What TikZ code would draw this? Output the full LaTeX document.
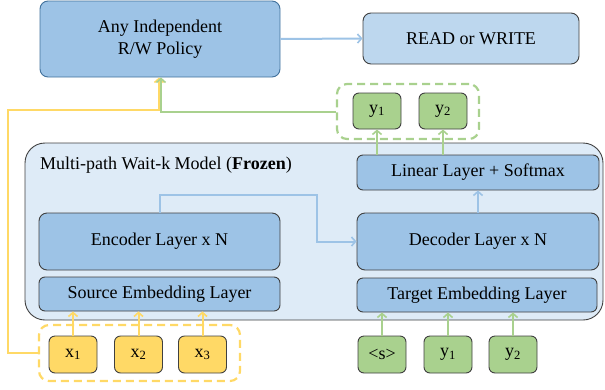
\documentclass[tikz,border=0pt]{standalone}
\usepackage{fontspec}
\setmainfont{Liberation Serif}
\usetikzlibrary{arrows.meta}
\definecolor{boxblue}{HTML}{9DC3E6}
\definecolor{paleblue}{HTML}{BDD7EE}
\definecolor{frameblue}{HTML}{DEEBF7}
\definecolor{edgeblue}{HTML}{41719C}
\definecolor{leafgreen}{HTML}{A9D18E}
\definecolor{tokyellow}{HTML}{FFD966}
\definecolor{darkedge}{HTML}{404040}
\begin{document}
\begin{tikzpicture}[x=1pt,y=-1pt,
  font=\fontsize{18}{22}\selectfont,
  base/.style={draw=darkedge,line width=0.9pt,rounded corners=8pt,inner sep=0pt,align=center},
  layer/.style={base,fill=boxblue},
  token/.style={base,rounded corners=6pt,minimum width=48pt,minimum height=37pt},
  ytok/.style={token,fill=tokyellow},
  gtok/.style={token,fill=leafgreen},
  group/.style={draw,line width=2.2pt,dash pattern=on 8pt off 5pt,rounded corners=10pt,inner sep=0pt},
  tip/.style={-{Straight Barb[length=4pt,width=9pt,line width=1.6pt]}},
  bline/.style={draw=boxblue,line width=2pt},
  gline/.style={draw=leafgreen,line width=2pt},
  yline/.style={draw=tokyellow,line width=2pt}]
\useasboundingbox (0,0) rectangle (605,389);

% frozen model frame
\node[draw=darkedge,line width=0.9pt,fill=frameblue,rounded corners=20pt,
      minimum width=578pt,minimum height=177pt] (model) at (314,231.5) {};
\node[anchor=west,inner sep=0pt] (title) at (40,165)
  {Multi-path Wait-k Model (\textbf{Frozen})};

% policy and decision
\node[layer,draw=edgeblue,minimum width=240pt,minimum height=76pt] (policy) at (160,39)
  {Any Independent\\R/W Policy};
\node[base,fill=paleblue,minimum width=216pt,minimum height=51pt] (rw) at (471,38.5)
  {READ or WRITE};

% encoder side
\node[layer,minimum width=241pt,minimum height=57pt] (enc) at (159.5,241.5) {Encoder Layer x N};
\node[layer,rounded corners=6pt,minimum width=241pt,minimum height=34pt] (src) at (159.5,294) {Source Embedding Layer};

% decoder side
\node[layer,rounded corners=6pt,minimum width=242pt,minimum height=35pt] (lin) at (478,172.5) {Linear Layer + Softmax};
\node[layer,minimum width=242pt,minimum height=57pt] (dec) at (478,241.5) {Decoder Layer x N};
\node[layer,rounded corners=6pt,minimum width=240pt,minimum height=34pt] (tgt) at (477,295) {Target Embedding Layer};

% source tokens
\node[group,draw=tokyellow,minimum width=201pt,minimum height=56pt] (ygrp) at (139.5,353) {};
\node[ytok] (x1) at (73,354.5) {x\textsubscript{1}};
\node[ytok] (x2) at (138.5,354.5) {x\textsubscript{2}};
\node[ytok] (x3) at (202.5,354.5) {x\textsubscript{3}};

% target-side input tokens
\node[gtok] (s0) at (382,354.5) {\textless s\textgreater};
\node[gtok] (ya) at (448,354.5) {y\textsubscript{1}};
\node[gtok] (yb) at (513,354.5) {y\textsubscript{2}};

% output tokens
\node[group,draw=leafgreen,minimum width=142pt,minimum height=55pt] (ggrp) at (408,111.5) {};
\node[gtok,minimum height=36pt] (o1) at (377,111) {y\textsubscript{1}};
\node[gtok,minimum height=36pt] (o2) at (443,111) {y\textsubscript{2}};

% connectors
\draw[bline,tip] (policy.east) -- (rw.west);

\coordinate (ycorner) at (8,110);
\draw[yline,tip] (ygrp.west) -| (ycorner) -| ([xshift=-1pt]policy.south);
\draw[gline,tip] (ggrp.west) -| ([xshift=1pt]policy.south);

\foreach \t in {x1,x2,x3}
  \draw[yline,tip] (\t.north) -- (\t.north |- src.south);
\foreach \t in {s0,ya,yb}
  \draw[gline,tip] (\t.north) -- (\t.north |- tgt.south);
\foreach \t in {o1,o2}
  \draw[gline,tip] (\t.south |- lin.north) -- (\t.south);

\draw[bline,tip] (dec.north) -- (lin.south);
\coordinate (bend) at (317,195);
\draw[bline,tip] (enc.north) |- (bend) |- (dec.west);
\end{tikzpicture}
\end{document}
